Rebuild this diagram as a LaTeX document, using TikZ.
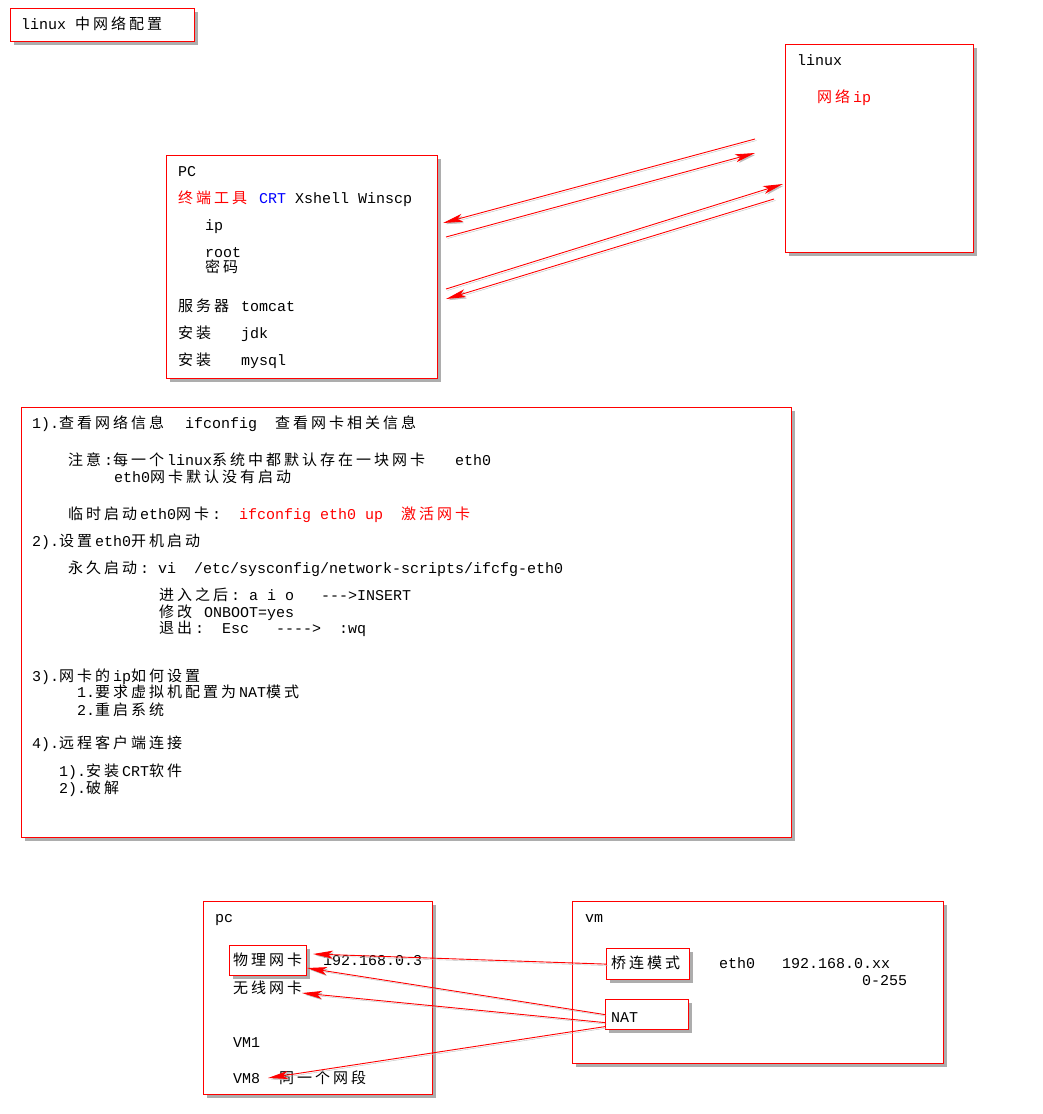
\documentclass[tikz,border=0pt]{standalone}
\usepackage{fontspec}
\setmonofont{Liberation Mono}
\newfontfamily\cjk{Noto Sans CJK SC}[LetterSpace=20]
\newcommand\zh[1]{{\cjk #1\kern3pt}}
\usetikzlibrary{arrows.meta,shadows}

\tikzset{
  box/.style={draw=red, line width=1.2pt, fill=white, anchor=north west, inner sep=0pt,
    drop shadow={shadow xshift=3pt, shadow yshift=-3pt, opacity=0.4, fill=black!80}},
  txt/.style={anchor=base west, inner sep=0pt, font=\ttfamily\fontsize{15}{18}\selectfont},
  link/.style={red, line width=0.9pt,
    preaction={draw=black!25, transform canvas={xshift=1.5pt,yshift=-1.5pt}}},
}

\begin{document}
\begin{tikzpicture}[x=1pt, y=-1pt, >={Stealth[length=20pt,width=8pt,inset=5pt]}]
    \path [use as bounding box, fill=white] (0,0) rectangle (1043,1114);
    % boxes
    \node [box, minimum width=184pt, minimum height=33pt] (title) at (10,8) {};
    \node [box, minimum width=271pt, minimum height=223pt] (pc) at (166,155) {};
    \node [box, minimum width=188pt, minimum height=208pt] (linux) at (785,44) {};
    \node [box, minimum width=770pt, minimum height=430pt] (info) at (21,407) {};
    \node [box, minimum width=229pt, minimum height=193pt] (pcb) at (203,901) {};
    \node [box, minimum width=371pt, minimum height=162pt] (vm) at (572,901) {};
    \node [box, minimum width=77pt, minimum height=30pt] (wuli) at (229,945) {};
    \node [box, minimum width=83pt, minimum height=31pt] (qiao) at (606,948) {};
    \node [box, minimum width=83pt, minimum height=30pt] (nat) at (605,999) {};

    \node [txt] (T) at (21,29) {linux \zh{中网络配置}};

    \node [txt] (P0) at (178,176) {PC};
    \node [txt] (P1) at (178,203) {\textcolor{red}{\zh{终端工具}} \textcolor{blue}{CRT} Xshell Winscp};
    \node [txt] (P2) at (205,230) {ip};
    \node [txt] (P3) at (205,257) {root};
    \node [txt] (P4) at (205,272) {\zh{密码}};
    \node [txt] (P5) at (178,311) {\zh{服务器} tomcat};
    \node [txt] (P6) at (178,338) {\zh{安装}~~~jdk};
    \node [txt] (P7) at (178,365) {\zh{安装}~~~mysql};

    \node [txt] (L0) at (797,65) {linux};
    \node [txt] (L1) at (817,102) {\textcolor{red}{\zh{网络}ip}};

    \node [txt] (S1) at (32,428) {1).\zh{查看网络信息}~~ifconfig~~\zh{查看网卡相关信息}};
    \node [txt] (S2) at (68,465) {\zh{注意}:\zh{每一个}linux\zh{系统中都默认存在一块网卡}~~~eth0};
    \node [txt] (S3) at (114,482) {eth0\zh{网卡默认没有启动}};
    \node [txt] (S4) at (68,519) {\zh{临时启动}eth0\zh{网卡}:~~\textcolor{red}{ifconfig eth0 up~~\zh{激活网卡}}};
    \node [txt] (S5) at (32,546) {2).\zh{设置}eth0\zh{开机启动}};
    \node [txt] (S6) at (68,573) {\zh{永久启动}: vi~~/etc/sysconfig/network-scripts/ifcfg-eth0};
    \node [txt] (S7) at (159,600) {\zh{进入之后}: a i o~~~--->INSERT};
    \node [txt] (S8) at (159,617) {\zh{修改} ONBOOT=yes};
    \node [txt] (S9) at (159,633) {\zh{退出}:~~Esc~~~---->~~:wq};
    \node [txt] (S10) at (32,681) {3).\zh{网卡的}ip\zh{如何设置}};
    \node [txt] (S11) at (77,697) {1.\zh{要求虚拟机配置为}NAT\zh{模式}};
    \node [txt] (S12) at (77,715) {2.\zh{重启系统}};
    \node [txt] (S13) at (32,748) {4).\zh{远程客户端连接}};
    \node [txt] (S14) at (59,776) {1).\zh{安装}CRT\zh{软件}};
    \node [txt] (S15) at (59,793) {2).\zh{破解}};

    \node [txt] (B0) at (215,922) {pc};
    \node [txt] (B1) at (233,965) {\zh{物理网卡}};
    \node [txt] (B2) at (323,965) {192.168.0.3};
    \node [txt] (B3) at (233,993) {\zh{无线网卡}};
    \node [txt] (B4) at (233,1047) {VM1};
    \node [txt] (B5) at (233,1083) {VM8};
    \node [txt] (B6) at (279,1083) {\zh{同一个网段}};

    \node [txt] (V0) at (585,922) {vm};
    \node [txt] (V1) at (611,968) {\zh{桥连模式}};
    \node [txt] (V2) at (719,968) {eth0~~~192.168.0.xx};
    \node [txt] (V3) at (862,985) {0-255};
    \node [txt] (V4) at (611,1022) {NAT};

    % loose ends of the arrows
    \coordinate (a1) at (755,139);
    \coordinate (a2) at (443,223);
    \coordinate (b1) at (446,237);
    \coordinate (b2) at (755,153);
    \coordinate (c1) at (446,289);
    \coordinate (c2) at (783,184);
    \coordinate (d1) at (774,199);
    \coordinate (d2) at (446,299);
    \coordinate (e2) at (313,954);
    \coordinate (f2) at (307,968);
    \coordinate (g2) at (302,993);
    \coordinate (h2) at (268,1078);

    \draw [link] [->] (a1) -- (a2);
    \draw [link] [->] (b1) -- (b2);
    \draw [link] [->] (c1) -- (c2);
    \draw [link] [->] (d1) -- (d2);
    \draw [link] [->] (qiao.west) -- (e2);
    \draw [link] [->] (nat.west) -- (f2);
    \draw [link] [->] ([yshift=-8pt]nat.west) -- (g2);
    \draw [link] [->] ([yshift=-12pt]nat.west) -- (h2);
\end{tikzpicture}
\end{document}
